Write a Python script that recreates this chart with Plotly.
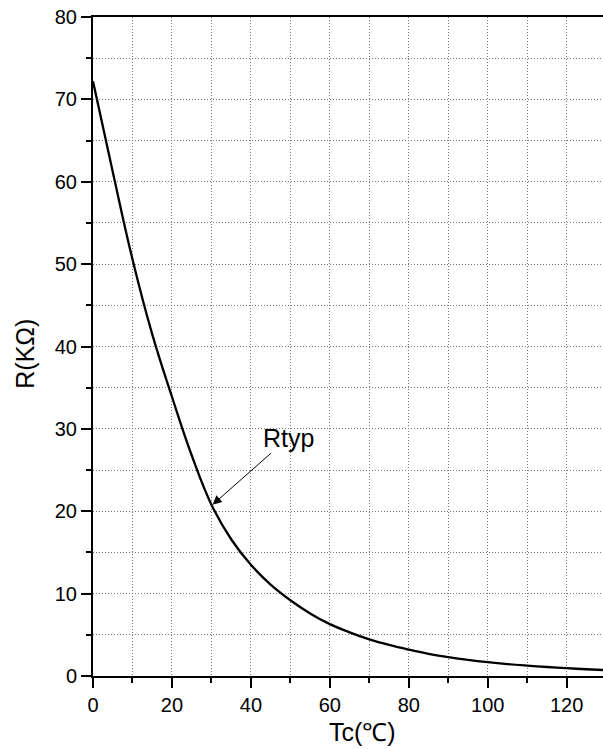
import plotly.graph_objects as go

# Data
temp_c = [0, 5, 10, 15, 20, 25, 30, 35, 40, 45, 50, 55, 60, 65, 70, 75, 80, 85, 90, 95,
          100, 105, 110, 115, 120, 125, 130]
r_kohm = [72.2, 61.2, 50.6, 41.5, 33.9, 26.8, 20.8, 16.6, 13.5, 11.1, 9.2, 7.6, 6.3, 5.3, 4.45,
          3.77, 3.2, 2.7, 2.3, 1.96, 1.68, 1.45, 1.26, 1.09, 0.95, 0.82, 0.71]

x_ticks = [0, 20, 40, 60, 80, 100, 120]
y_ticks = [0, 10, 20, 30, 40, 50, 60, 70, 80]

FONT = "Liberation Sans, Arial, sans-serif"
GRID = "#7a7a7a"
DASH = "1px,2px"

fig = go.Figure()
fig.add_trace(go.Scatter(
    x=temp_c, y=r_kohm, mode="lines",
    line=dict(color="black", width=2.3, shape="spline", smoothing=1.2),
    showlegend=False, hoverinfo="skip",
))

fig.update_layout(
    width=603, height=749,
    margin=dict(l=93, r=0, t=17, b=73),
    paper_bgcolor="white", plot_bgcolor="white",
    font=dict(family=FONT, size=20, color="black"),
    xaxis=dict(
        range=[0, 129.2], tickvals=x_ticks, ticktext=[str(v) for v in x_ticks],
        showline=True, linecolor="black", linewidth=2, mirror=True,
        ticks="outside", ticklen=10, tickwidth=2, tickcolor="black",
        showgrid=True, gridcolor=GRID, griddash=DASH, gridwidth=1,
        minor=dict(dtick=10, tick0=0, ticks="outside", ticklen=5, tickwidth=2, tickcolor="black",
                   showgrid=True, gridcolor=GRID, griddash=DASH, gridwidth=1),
        zeroline=False, tickfont=dict(size=20), automargin=False,
    ),
    yaxis=dict(
        range=[0, 80], tickvals=y_ticks, ticktext=[str(v) for v in y_ticks],
        showline=True, linecolor="black", linewidth=2, mirror=False,
        ticks="outside", ticklen=10, tickwidth=2, tickcolor="black",
        showgrid=True, gridcolor=GRID, griddash=DASH, gridwidth=1,
        minor=dict(dtick=5, tick0=0, ticks="outside", ticklen=5, tickwidth=2, tickcolor="black",
                   showgrid=True, gridcolor=GRID, griddash=DASH, gridwidth=1),
        zeroline=False, tickfont=dict(size=20), automargin=False,
    ),
    annotations=[
        dict(text="Tc(℃)", xref="paper", yref="paper", x=0.529, y=0, yshift=-56,
             xanchor="center", yanchor="middle", showarrow=False, font=dict(size=25)),
        dict(text="R(KΩ)", xref="paper", yref="paper", x=0, xshift=-68, y=0.489,
             xanchor="center", yanchor="middle", textangle=-90, showarrow=False, font=dict(size=25)),
        dict(text="Rtyp", xref="x", yref="y", x=30.3, y=20.8, ax=76, ay=-67,
             showarrow=True, arrowhead=2, arrowsize=1.8, arrowwidth=1, arrowcolor="black",
             font=dict(size=25)),
    ],
)

fig.write_html("out.html", config={"displayModeBar": False},
               post_script="document.body.style.margin='0';document.body.style.overflow='hidden';")
